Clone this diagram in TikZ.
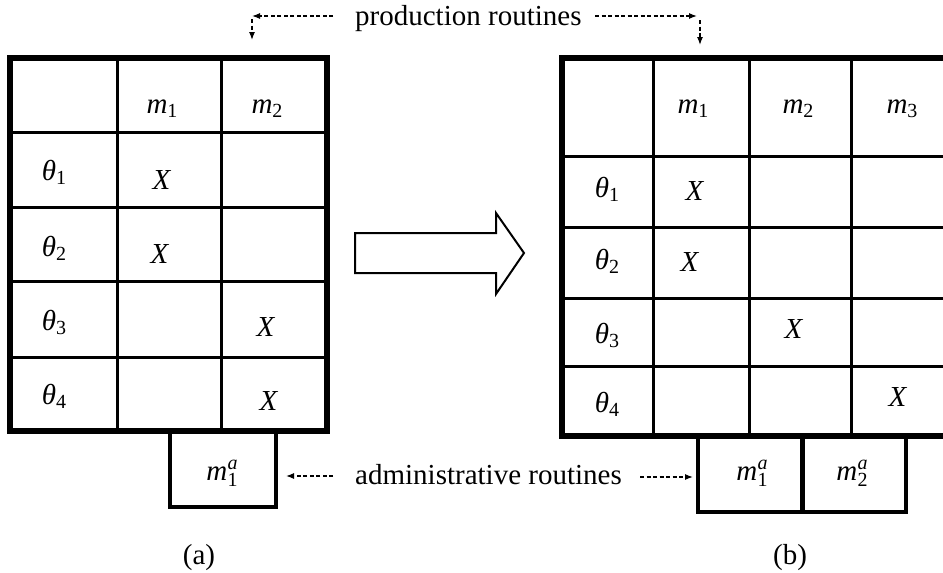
\documentclass[tikz,border=0pt]{standalone}
\usepackage{fontspec}
\setmainfont{Liberation Serif}
\usetikzlibrary{arrows.meta}
\newcommand\lowtxt[1]{\raisebox{-4pt}{\fontsize{20}{22}\selectfont #1}}
\newcommand\mi[1]{\textit{#1}}
\newcommand\madm[1]{\textit{m}\kern0.5pt\raisebox{-6pt}{\fontsize{20}{14}\selectfont\shortstack[l]{\itshape a\\#1}}}
\begin{document}
\begin{tikzpicture}[x=1pt,y=-1pt,
  every node/.style={font=\fontsize{29}{34}\selectfont, inner sep=0pt, anchor=base},
  outerline/.style={line width=6pt, line join=miter},
  innerline/.style={line width=3pt},
  admbox/.style={line width=4pt, line join=miter},
  bigarrow/.style={line width=2pt, line join=miter},
  dasharrow/.style={line width=1.2pt, dash pattern=on 4pt off 2.5pt, -{Latex[length=8pt,width=6pt]}}]
\useasboundingbox (0,0) rectangle (943,573);
\clip (0,0) rectangle (943,573);

% ---- left table (a)
\foreach \y in {132,207,281,357} \draw[innerline] (10,\y) -- (327,\y);
\foreach \x in {117,221} \draw[innerline] (\x,58) -- (\x,431);
\draw[outerline] (10,58) rectangle (327,431);
\draw[admbox] (170,431) -- (170,507) -- (276,507) -- (276,431);

\node (la1) at (162,113) {\mi{m}\lowtxt{1}};
\node (la2) at (267,113) {\mi{m}\lowtxt{2}};
\node (lt1) at (54,180) {\mi{θ}\lowtxt{1}};
\node (lt2) at (54,256) {\mi{θ}\lowtxt{2}};
\node (lt3) at (54,330) {\mi{θ}\lowtxt{3}};
\node (lt4) at (54,404) {\mi{θ}\lowtxt{4}};
\node (lx1) at (162,189) {\mi{X}};
\node (lx2) at (160,263) {\mi{X}};
\node (lx3) at (266,336) {\mi{X}};
\node (lx4) at (269,410) {\mi{X}};
\node (lad1) at (222,480) {\madm{1}};

% ---- big hollow arrow
\draw[bigarrow] (355,233) -- (496,233) -- (496,213) -- (524,253) -- (496,294) -- (496,273) -- (355,273) -- cycle;

% ---- right table (b)
\foreach \y in {156,227,298,366} \draw[innerline] (562,\y) -- (950,\y);
\foreach \x in {653,749,851} \draw[innerline] (\x,58) -- (\x,436);
\draw[outerline] (950,58) -- (562,58) -- (562,436) -- (950,436);
\draw[admbox] (698,436) -- (698,512) -- (906,512) -- (906,436);
\draw[admbox, line width=5pt] (802,436) -- (802,512);

\node (ra1) at (693,113) {\mi{m}\lowtxt{1}};
\node (ra2) at (798,113) {\mi{m}\lowtxt{2}};
\node (ra3) at (902,113) {\mi{m}\lowtxt{3}};
\node (rt1) at (607,197) {\mi{θ}\lowtxt{1}};
\node (rt2) at (607,269) {\mi{θ}\lowtxt{2}};
\node (rt3) at (607,343) {\mi{θ}\lowtxt{3}};
\node (rt4) at (607,412) {\mi{θ}\lowtxt{4}};
\node (rx1) at (695,200) {\mi{X}};
\node (rx2) at (690,271) {\mi{X}};
\node (rx3) at (794,338) {\mi{X}};
\node (rx4) at (898,406) {\mi{X}};
\node (rad1) at (752,480) {\madm{1}};
\node (rad2) at (852,480) {\madm{2}};

% ---- labels and dashed arrows
\node[anchor=base west] (prod) at (355,25) {production routines};
\node[anchor=base west] (adm) at (355,484) {administrative routines};
\node (capa) at (199,564) {(a)};
\node (capb) at (790,564) {(b)};

\coordinate (pls) at (333,16);
\coordinate (ple) at (252,16);
\coordinate (plv) at (252,19);
\coordinate (pld) at (252,40);
\coordinate (prs) at (595,16);
\coordinate (pre) at (697,16);
\coordinate (prv) at (700,20);
\coordinate (prd) at (700,45);
\coordinate (als) at (333,476);
\coordinate (ale) at (286,476);
\coordinate (ars) at (640,477);
\coordinate (are) at (693,477);

\draw[dasharrow] (pls) -- (ple);
\draw[dasharrow] (plv) -- (pld);
\draw[dasharrow] (prs) -- (pre);
\draw[dasharrow] (prv) -- (prd);
\draw[dasharrow] (als) -- (ale);
\draw[dasharrow] (ars) -- (are);
\end{tikzpicture}
\end{document}
